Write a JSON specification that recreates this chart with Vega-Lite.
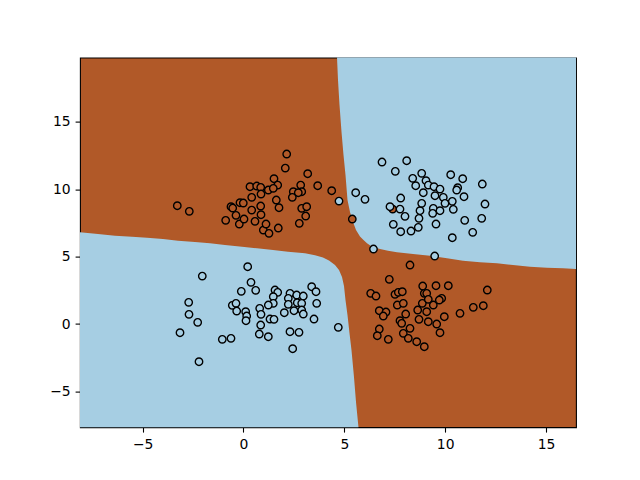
{
  "$schema": "https://vega.github.io/schema/vega-lite/v6.json",
  "width": 496,
  "height": 369.6,
  "autosize": {"type": "none"},
  "padding": {"left": 80, "top": 57.6, "right": 64, "bottom": 52.8},
  "background": "white",
  "config": {
    "view": {"fill": "#b15928", "stroke": "black", "strokeWidth": 1.1},
    "axis": {
      "domain": false, "grid": false, "title": null,
      "labelFont": "DejaVu Sans", "labelFontSize": 13.9, "labelColor": "black",
      "tickColor": "black", "tickSize": 4.9, "tickWidth": 1.1, "labelPadding": 4.9,
      "labelExpr": "replace(datum.label, '-', '\u2212')"
    }
  },
  "datasets": {
    "tr": [
      {"x": 4.636, "y": 19.78}, {"x": 4.685, "y": 18.11}, {"x": 4.760, "y": 16.26}, {"x": 4.859, "y": 14.25},
      {"x": 4.958, "y": 12.55}, {"x": 5.057, "y": 11.06}, {"x": 5.156, "y": 9.21}, {"x": 5.280, "y": 8.31},
      {"x": 5.429, "y": 7.57}, {"x": 5.578, "y": 6.98}, {"x": 5.776, "y": 6.50}, {"x": 5.949, "y": 6.24},
      {"x": 6.123, "y": 5.99}, {"x": 6.371, "y": 5.74}, {"x": 6.768, "y": 5.57}, {"x": 7.164, "y": 5.44},
      {"x": 7.610, "y": 5.32}, {"x": 8.404, "y": 5.20}, {"x": 9.246, "y": 5.07}, {"x": 10.089, "y": 4.88},
      {"x": 10.883, "y": 4.70}, {"x": 11.725, "y": 4.58}, {"x": 12.568, "y": 4.51}, {"x": 13.361, "y": 4.38},
      {"x": 14.204, "y": 4.25}, {"x": 15.047, "y": 4.18}, {"x": 15.840, "y": 4.14}, {"x": 16.6, "y": 4.08}
    ],
    "bl": [
      {"x": -8.2, "y": 6.83}, {"x": -7.214, "y": 6.68}, {"x": -6.371, "y": 6.56}, {"x": -5.528, "y": 6.48},
      {"x": -4.784, "y": 6.41}, {"x": -3.991, "y": 6.31}, {"x": -3.247, "y": 6.18}, {"x": -2.405, "y": 6.09},
      {"x": -1.661, "y": 5.99}, {"x": -0.917, "y": 5.86}, {"x": -0.074, "y": 5.74}, {"x": 0.669, "y": 5.62},
      {"x": 1.463, "y": 5.49}, {"x": 2.206, "y": 5.37}, {"x": 3.049, "y": 5.25}, {"x": 3.545, "y": 5.10},
      {"x": 3.941, "y": 4.94}, {"x": 4.239, "y": 4.71}, {"x": 4.536, "y": 4.38}, {"x": 4.735, "y": 4.01},
      {"x": 4.884, "y": 3.49}, {"x": 4.983, "y": 2.82}, {"x": 5.057, "y": 1.78}, {"x": 5.156, "y": 0.67},
      {"x": 5.255, "y": -0.67}, {"x": 5.354, "y": -1.93}, {"x": 5.478, "y": -3.93}, {"x": 5.578, "y": -5.79},
      {"x": 5.701, "y": -7.66}
    ],
    "pts": [
      {"x": -3.282, "y": 8.783, "c": 1}, {"x": -2.687, "y": 8.367, "c": 1}, {"x": -0.883, "y": 7.699, "c": 1},
      {"x": -0.620, "y": 8.708, "c": 1}, {"x": -0.535, "y": 8.612, "c": 1}, {"x": -0.372, "y": 8.070, "c": 1},
      {"x": -0.208, "y": 7.424, "c": 1}, {"x": -0.174, "y": 9.005, "c": 1}, {"x": -0.010, "y": 8.983, "c": 1},
      {"x": 0.025, "y": 7.795, "c": 1}, {"x": 0.322, "y": 10.193, "c": 1}, {"x": 0.654, "y": 10.245, "c": 1},
      {"x": 0.853, "y": 10.149, "c": 1}, {"x": 0.407, "y": 9.406, "c": 1}, {"x": 0.868, "y": 9.651, "c": 1},
      {"x": 0.407, "y": 8.463, "c": 1}, {"x": 0.853, "y": 8.760, "c": 1}, {"x": 0.868, "y": 8.114, "c": 1},
      {"x": 0.570, "y": 7.624, "c": 1}, {"x": 0.982, "y": 6.978, "c": 1}, {"x": 2.142, "y": 12.621, "c": 1},
      {"x": 2.072, "y": 11.581, "c": 1}, {"x": 3.183, "y": 11.158, "c": 1}, {"x": 1.512, "y": 10.787, "c": 1},
      {"x": 1.696, "y": 10.319, "c": 1}, {"x": 1.230, "y": 9.948, "c": 1}, {"x": 1.477, "y": 10.074, "c": 1},
      {"x": 2.836, "y": 10.319, "c": 1}, {"x": 2.469, "y": 9.822, "c": 1}, {"x": 2.886, "y": 9.822, "c": 1},
      {"x": 2.717, "y": 9.748, "c": 1}, {"x": 2.420, "y": 9.406, "c": 1}, {"x": 3.679, "y": 10.267, "c": 1},
      {"x": 4.373, "y": 9.896, "c": 1}, {"x": 1.626, "y": 9.206, "c": 1}, {"x": 1.760, "y": 8.634, "c": 1},
      {"x": 2.886, "y": 8.589, "c": 1}, {"x": 3.133, "y": 8.708, "c": 1}, {"x": 3.084, "y": 8.018, "c": 1},
      {"x": 2.767, "y": 7.476, "c": 1}, {"x": 1.725, "y": 7.127, "c": 1}, {"x": 1.116, "y": 7.424, "c": 1},
      {"x": 1.264, "y": 6.734, "c": 1}, {"x": 5.394, "y": 7.795, "c": 1}, {"x": 7.397, "y": 8.537, "c": 1},
      {"x": 4.735, "y": 9.131, "c": 0}, {"x": 6.445, "y": 5.568, "c": 0}, {"x": 9.480, "y": 5.048, "c": 0},
      {"x": 5.563, "y": 9.748, "c": 0}, {"x": 6.024, "y": 9.258, "c": 0}, {"x": 6.867, "y": 12.027, "c": 0},
      {"x": 8.091, "y": 12.123, "c": 0}, {"x": 7.526, "y": 11.336, "c": 0}, {"x": 7.263, "y": 8.708, "c": 0},
      {"x": 7.794, "y": 9.354, "c": 0}, {"x": 7.759, "y": 8.537, "c": 0}, {"x": 8.007, "y": 7.996, "c": 0},
      {"x": 7.427, "y": 7.402, "c": 0}, {"x": 7.794, "y": 6.852, "c": 0}, {"x": 8.305, "y": 6.904, "c": 0},
      {"x": 8.666, "y": 7.179, "c": 0}, {"x": 8.701, "y": 7.847, "c": 0}, {"x": 8.751, "y": 8.411, "c": 0},
      {"x": 8.835, "y": 8.961, "c": 0}, {"x": 8.914, "y": 9.748, "c": 0}, {"x": 8.389, "y": 10.817, "c": 0},
      {"x": 8.538, "y": 10.267, "c": 0}, {"x": 8.835, "y": 11.188, "c": 0}, {"x": 10.273, "y": 11.084, "c": 0},
      {"x": 10.868, "y": 10.787, "c": 0}, {"x": 11.840, "y": 10.394, "c": 0}, {"x": 9.048, "y": 10.639, "c": 0},
      {"x": 9.162, "y": 10.319, "c": 0}, {"x": 9.445, "y": 10.193, "c": 0}, {"x": 9.742, "y": 10.022, "c": 0},
      {"x": 10.620, "y": 10.119, "c": 0}, {"x": 10.570, "y": 9.948, "c": 0}, {"x": 9.494, "y": 9.525, "c": 0},
      {"x": 9.906, "y": 9.406, "c": 0}, {"x": 10.932, "y": 9.451, "c": 0}, {"x": 10.352, "y": 9.109, "c": 0},
      {"x": 9.990, "y": 8.961, "c": 0}, {"x": 9.410, "y": 8.589, "c": 0}, {"x": 9.742, "y": 8.411, "c": 0},
      {"x": 10.402, "y": 8.515, "c": 0}, {"x": 9.380, "y": 8.218, "c": 0}, {"x": 11.973, "y": 8.909, "c": 0},
      {"x": 11.810, "y": 7.847, "c": 0}, {"x": 10.967, "y": 7.699, "c": 0}, {"x": 9.544, "y": 7.424, "c": 0},
      {"x": 11.364, "y": 6.808, "c": 0}, {"x": 10.352, "y": 6.407, "c": 0},
      {"x": 0.208, "y": 4.254, "c": 0}, {"x": -2.043, "y": 3.563, "c": 0}, {"x": 0.372, "y": 3.096, "c": 0},
      {"x": 0.605, "y": 2.502, "c": 0}, {"x": -0.109, "y": 2.428, "c": 0}, {"x": -2.717, "y": 1.611, "c": 0},
      {"x": -2.702, "y": 0.720, "c": 0}, {"x": -2.271, "y": 0.126, "c": 0}, {"x": -3.148, "y": -0.646, "c": 0},
      {"x": -0.555, "y": 1.388, "c": 0}, {"x": -0.372, "y": 1.537, "c": 0}, {"x": -0.337, "y": 0.965, "c": 0},
      {"x": 0.109, "y": 0.913, "c": 0}, {"x": 0.159, "y": 0.594, "c": 0}, {"x": 0.124, "y": 0.245, "c": 0},
      {"x": 0.803, "y": 1.166, "c": 0}, {"x": 0.868, "y": 0.720, "c": 0}, {"x": 0.853, "y": -0.074, "c": 0},
      {"x": 0.783, "y": -0.742, "c": 0}, {"x": -1.051, "y": -1.136, "c": 0}, {"x": -0.620, "y": -1.062, "c": 0},
      {"x": -2.206, "y": -2.799, "c": 0}, {"x": 1.562, "y": 2.524, "c": 0}, {"x": 1.696, "y": 2.353, "c": 0},
      {"x": 1.477, "y": 2.027, "c": 0}, {"x": 1.477, "y": 1.537, "c": 0}, {"x": 1.230, "y": 1.411, "c": 0},
      {"x": 2.305, "y": 2.279, "c": 0}, {"x": 2.221, "y": 1.908, "c": 0}, {"x": 2.638, "y": 2.153, "c": 0},
      {"x": 2.965, "y": 2.079, "c": 0}, {"x": 2.221, "y": 1.463, "c": 0}, {"x": 2.667, "y": 1.581, "c": 0},
      {"x": 2.886, "y": 1.537, "c": 0}, {"x": 2.023, "y": 0.839, "c": 0}, {"x": 2.504, "y": 0.987, "c": 0},
      {"x": 2.886, "y": 1.039, "c": 0}, {"x": 2.965, "y": 0.742, "c": 0}, {"x": 3.381, "y": 2.769, "c": 0},
      {"x": 3.595, "y": 2.398, "c": 0}, {"x": 3.629, "y": 1.537, "c": 0}, {"x": 3.495, "y": 0.371, "c": 0},
      {"x": 1.314, "y": 0.371, "c": 0}, {"x": 1.512, "y": 0.349, "c": 0}, {"x": 1.230, "y": -0.943, "c": 0},
      {"x": 2.305, "y": -0.572, "c": 0}, {"x": 2.752, "y": -0.616, "c": 0}, {"x": 2.439, "y": -1.834, "c": 0},
      {"x": 4.700, "y": -0.245, "c": 0},
      {"x": 8.255, "y": 4.380, "c": 1}, {"x": 7.229, "y": 3.318, "c": 1}, {"x": 6.306, "y": 2.279, "c": 1},
      {"x": 6.569, "y": 2.079, "c": 1}, {"x": 7.511, "y": 2.205, "c": 1}, {"x": 7.675, "y": 2.353, "c": 1},
      {"x": 7.873, "y": 2.398, "c": 1}, {"x": 7.625, "y": 1.411, "c": 1}, {"x": 7.923, "y": 1.537, "c": 1},
      {"x": 8.885, "y": 2.821, "c": 1}, {"x": 8.964, "y": 2.279, "c": 1}, {"x": 6.733, "y": 0.987, "c": 1},
      {"x": 7.065, "y": 0.891, "c": 1}, {"x": 6.931, "y": 0.594, "c": 1}, {"x": 8.042, "y": 0.742, "c": 1},
      {"x": 8.637, "y": 1.039, "c": 1}, {"x": 8.865, "y": 1.537, "c": 1}, {"x": 7.759, "y": 0.245, "c": 1},
      {"x": 7.843, "y": 0.052, "c": 1}, {"x": 8.701, "y": 0.349, "c": 1}, {"x": 8.255, "y": -0.319, "c": 1},
      {"x": 7.923, "y": -0.690, "c": 1}, {"x": 6.733, "y": -0.371, "c": 1}, {"x": 6.634, "y": -0.869, "c": 1},
      {"x": 7.179, "y": -1.136, "c": 1}, {"x": 8.171, "y": -1.062, "c": 1}, {"x": 8.587, "y": -1.314, "c": 1},
      {"x": 8.964, "y": -1.685, "c": 1}, {"x": 9.544, "y": 2.843, "c": 1}, {"x": 10.154, "y": 2.843, "c": 1},
      {"x": 9.083, "y": 2.279, "c": 1}, {"x": 9.162, "y": 1.834, "c": 1}, {"x": 9.827, "y": 1.908, "c": 1},
      {"x": 9.708, "y": 1.782, "c": 1}, {"x": 9.410, "y": 1.411, "c": 1}, {"x": 9.083, "y": 0.913, "c": 1},
      {"x": 9.162, "y": 0.171, "c": 1}, {"x": 9.579, "y": 0.0, "c": 1}, {"x": 9.956, "y": 0.542, "c": 1},
      {"x": 9.742, "y": -0.646, "c": 1}, {"x": 10.734, "y": 0.794, "c": 1}, {"x": 11.393, "y": 1.240, "c": 1},
      {"x": 11.889, "y": 1.359, "c": 1}, {"x": 12.087, "y": 2.524, "c": 1}
    ]
  },
  "encoding": {
    "x": {"field": "x", "type": "quantitative",
          "scale": {"domain": [-8.106, 16.485], "nice": false, "zero": false},
          "axis": {"values": [-5, 0, 5, 10, 15]}},
    "y": {"field": "y", "type": "quantitative",
          "scale": {"domain": [-7.66, 19.78], "nice": false, "zero": false},
          "axis": {"values": [-5, 0, 5, 10, 15]}}
  },
  "layer": [
    {
      "data": {"name": "tr"},
      "mark": {"type": "area", "clip": true, "color": "#a6cee3", "interpolate": "linear"},
      "encoding": {"y2": {"datum": 25}}
    },
    {
      "data": {"name": "bl"},
      "mark": {"type": "area", "clip": true, "color": "#a6cee3", "interpolate": "linear"},
      "encoding": {"y2": {"datum": -10}}
    },
    {
      "data": {"name": "pts"},
      "mark": {"type": "point", "shape": "circle", "filled": false, "size": 55, "strokeWidth": 1.4, "stroke": "black", "opacity": 1, "clip": true},
      "encoding": {
        "fill": {"field": "c", "type": "nominal", "scale": {"domain": [0, 1], "range": ["#a6cee3", "#b15928"]}, "legend": null}
      }
    }
  ]
}
